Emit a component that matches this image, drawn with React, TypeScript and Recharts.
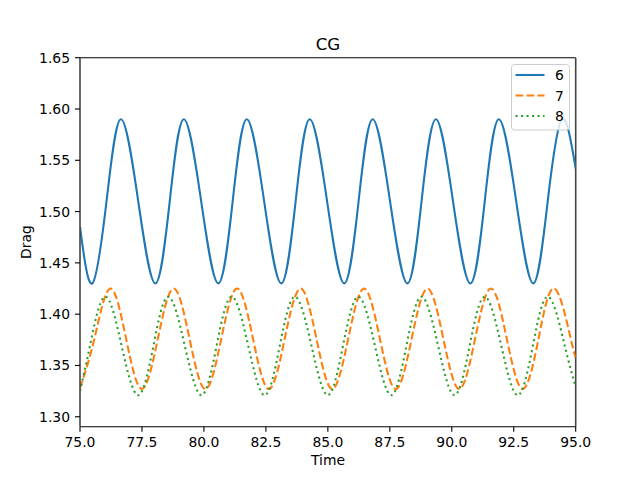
import React from 'react';
import { LineChart, Line, XAxis, YAxis, Legend, ReferenceLine } from 'recharts';

// Series "6" (blue, solid)
const s6Time = [75.0, 75.5, 76.07, 76.65, 77.35, 78.04, 78.62, 79.19, 79.89, 80.58, 81.16, 81.73, 82.43, 83.12, 83.7, 84.27, 84.97, 85.66, 86.24, 86.81, 87.51, 88.21, 88.78, 89.36, 90.05, 90.75, 91.33, 91.9, 92.6, 93.29, 93.87, 94.44, 95.0];
const s6Drag = [1.485, 1.43, 1.51, 1.59, 1.51, 1.43, 1.51, 1.59, 1.51, 1.43, 1.51, 1.59, 1.51, 1.43, 1.51, 1.59, 1.51, 1.43, 1.51, 1.59, 1.51, 1.43, 1.51, 1.59, 1.51, 1.43, 1.51, 1.59, 1.51, 1.43, 1.51, 1.59, 1.542];

// Series "7" (orange, dashed)
const s7Time = [75.0, 75.58, 76.22, 76.86, 77.5, 78.14, 78.78, 79.42, 80.06, 80.7, 81.34, 81.98, 82.62, 83.26, 83.9, 84.54, 85.18, 85.82, 86.46, 87.1, 87.74, 88.38, 89.02, 89.66, 90.3, 90.94, 91.58, 92.22, 92.86, 93.5, 94.14, 94.8, 95.0];
const s7Drag = [1.328, 1.376, 1.425, 1.376, 1.327, 1.376, 1.425, 1.376, 1.327, 1.376, 1.425, 1.376, 1.327, 1.376, 1.425, 1.376, 1.327, 1.376, 1.425, 1.376, 1.327, 1.376, 1.425, 1.376, 1.327, 1.376, 1.425, 1.376, 1.327, 1.376, 1.425, 1.376, 1.358];

// Series "8" (green, dotted)
const s8Time = [75.0, 75.4, 76.01, 76.68, 77.35, 77.96, 78.56, 79.23, 79.9, 80.51, 81.12, 81.79, 82.45, 83.06, 83.67, 84.34, 85.0, 85.61, 86.23, 86.9, 87.56, 88.17, 88.78, 89.45, 90.11, 90.72, 91.33, 92.0, 92.66, 93.27, 93.89, 94.56, 95.0];
const s8Drag = [1.325, 1.369, 1.417, 1.369, 1.321, 1.369, 1.417, 1.369, 1.321, 1.369, 1.417, 1.369, 1.321, 1.369, 1.417, 1.369, 1.321, 1.369, 1.417, 1.369, 1.321, 1.369, 1.417, 1.369, 1.321, 1.369, 1.417, 1.369, 1.321, 1.369, 1.417, 1.369, 1.329];

const xTicks = [75, 77.5, 80, 82.5, 85, 87.5, 90, 92.5, 95];
const yTicks = [1.3, 1.35, 1.4, 1.45, 1.5, 1.55, 1.6, 1.65];

const FONT = '"DejaVu Sans", sans-serif';
const LW = 2.08;

const toData = (xs: number[], ys: number[]) => xs.map((x, i) => ({ x, y: ys[i] }));

const SERIES = [
  { name: '6', color: '#1f77b4', dash: undefined as string | undefined, data: toData(s6Time, s6Drag) },
  { name: '7', color: '#ff7f0e', dash: '7.7 3.3', data: toData(s7Time, s7Drag) },
  { name: '8', color: '#2ca02c', dash: '2.1 3.4', data: toData(s8Time, s8Drag) },
];

const LegendBox = () => (
  <svg width={60} height={68} style={{ display: 'block' }}>
    <rect x={0.5} y={0.5} width={58} height={65.5} rx={3} ry={3} fill="rgba(255,255,255,0.8)" stroke="#cccccc" strokeWidth={1} />
    {SERIES.map((s, i) => {
      const cy = 11 + i * 20.5;
      return (
        <g key={s.name}>
          <line x1={4.5} x2={33.5} y1={cy} y2={cy} stroke={s.color} strokeWidth={LW} strokeDasharray={s.dash} />
          <text x={44} y={cy} dy="0.36em" fontSize={13.9} fontFamily={FONT} fill="#000">{s.name}</text>
        </g>
      );
    })}
  </svg>
);

export default function App() {
  return (
    <div style={{ position: 'absolute', left: 0, top: 0, width: 640, height: 480, background: '#fff' }}>
      <LineChart
        width={640}
        height={480}
        margin={{ top: 57.7, right: 64.3, bottom: 23.3, left: 20 }}
      >
        <XAxis
          dataKey="x"
          type="number"
          domain={[75, 95]}
          ticks={xTicks}
          allowDataOverflow
          height={30}
          tickFormatter={(v: number) => v.toFixed(1)}
          tick={{ fill: '#000', fontSize: 13.9, fontFamily: FONT }}
          tickSize={5}
          tickMargin={5}
          axisLine={{ stroke: '#000', strokeWidth: 1.1 }}
          tickLine={{ stroke: '#000', strokeWidth: 1.1 }}
        />
        <YAxis
          dataKey="y"
          type="number"
          domain={[1.2903, 1.65]}
          ticks={yTicks}
          allowDataOverflow
          width={60}
          tickFormatter={(v: number) => v.toFixed(2)}
          tick={{ fill: '#000', fontSize: 13.9, fontFamily: FONT }}
          tickSize={5}
          tickMargin={5}
          axisLine={{ stroke: '#444', strokeWidth: 1.6 }}
          tickLine={{ stroke: '#000', strokeWidth: 1.1 }}
        />
        <ReferenceLine y={1.65} stroke="#000" strokeWidth={1.1} />
        <ReferenceLine x={95} stroke="#444" strokeWidth={1.6} />
        {SERIES.map((s) => (
          <Line
            key={s.name}
            data={s.data}
            dataKey="y"
            name={s.name}
            type="natural"
            stroke={s.color}
            strokeWidth={LW}
            strokeDasharray={s.dash}
            dot={false}
            activeDot={false}
            isAnimationActive={false}
          />
        ))}
        <Legend
          layout="vertical"
          align="center"
          verticalAlign="middle"
          content={LegendBox}
          wrapperStyle={{ left: 510.7, top: 64.3, width: 60, height: 68, right: 'auto', bottom: 'auto' }}
        />
      </LineChart>
      <svg width={640} height={480} style={{ position: 'absolute', left: 0, top: 0, pointerEvents: 'none' }}>
        <text x={328} y={49.5} textAnchor="middle" fontSize={16.7} fontFamily={FONT} fill="#000">CG</text>
        <text x={328} y={465} textAnchor="middle" fontSize={13.9} fontFamily={FONT} fill="#000">Time</text>
        <text x={30.5} y={242} textAnchor="middle" fontSize={13.9} fontFamily={FONT} fill="#000" transform="rotate(-90, 30.5, 242)">Drag</text>
      </svg>
    </div>
  );
}
